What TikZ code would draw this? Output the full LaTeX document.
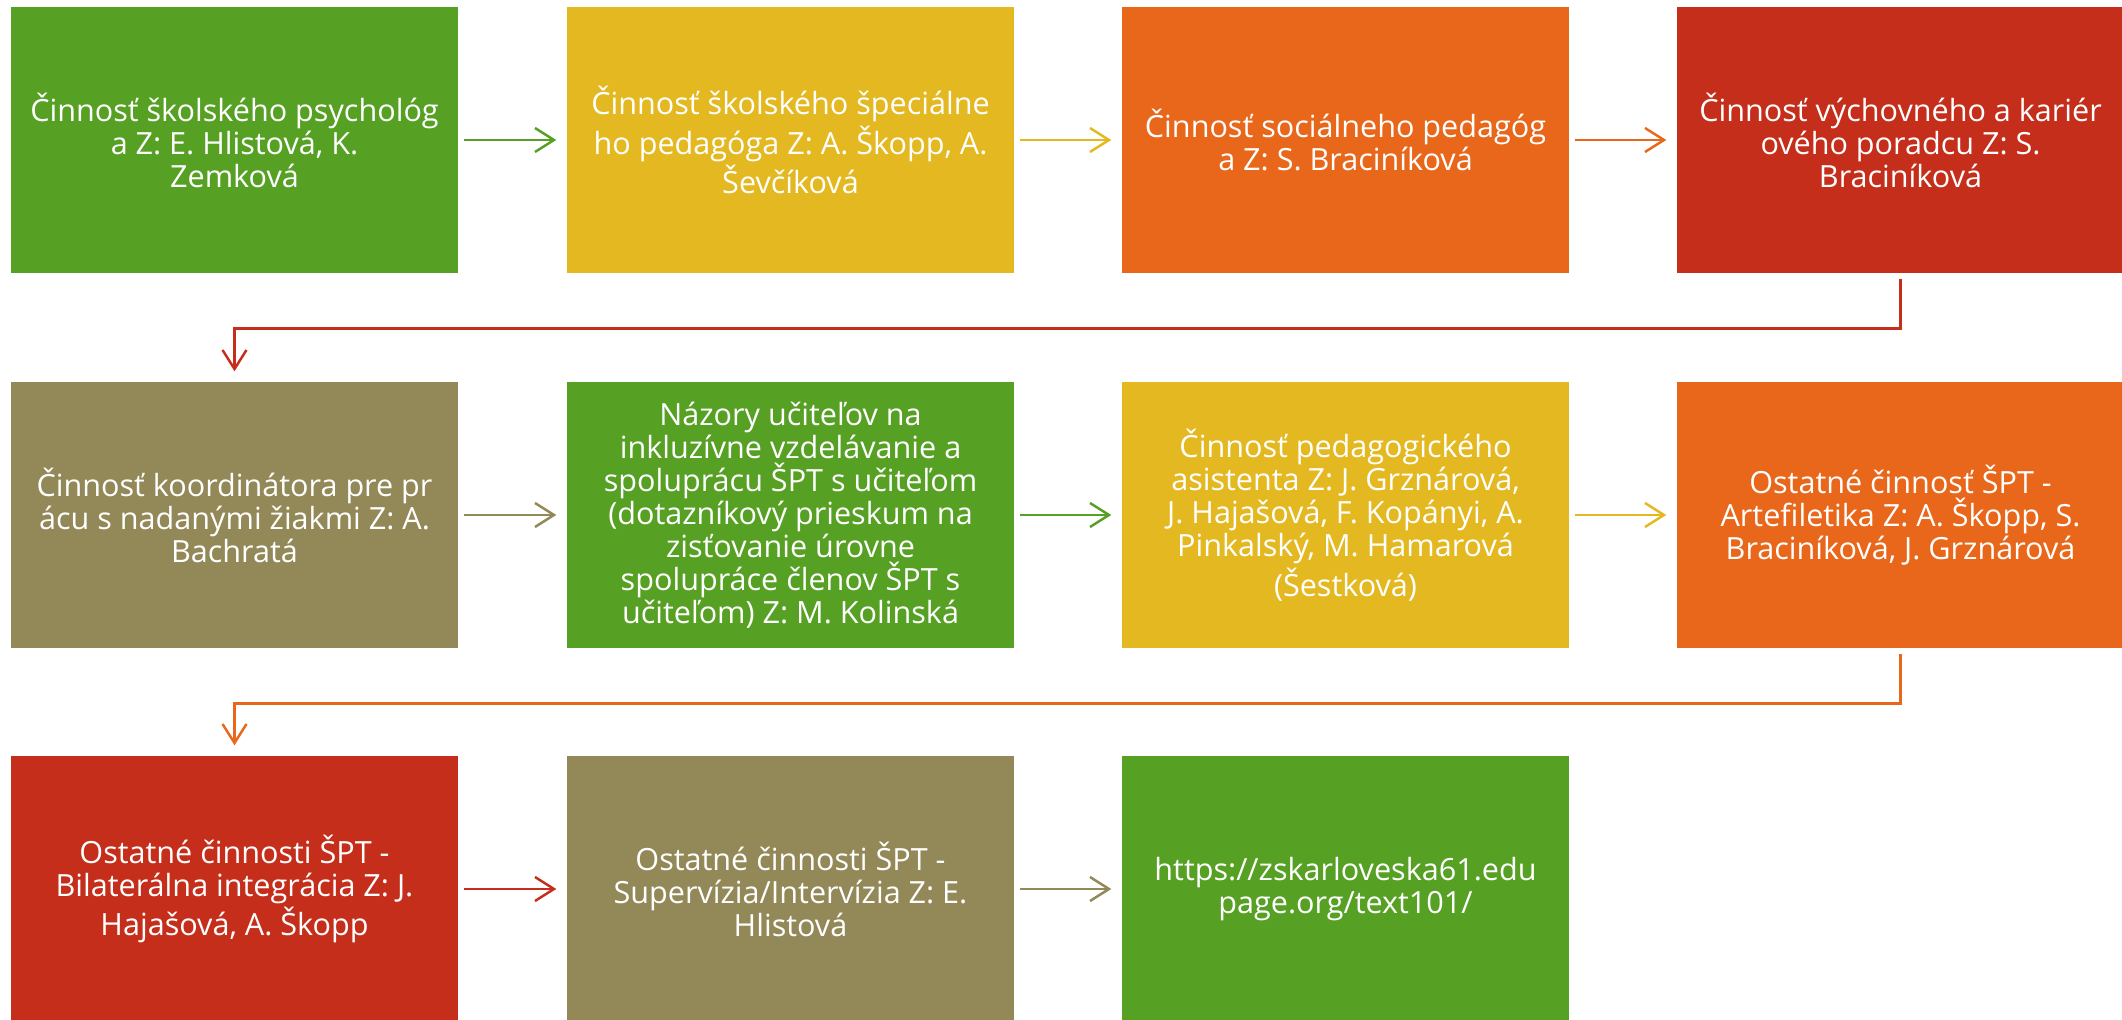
\documentclass[tikz,border=0pt]{standalone}
\usepackage{fontspec}
\setmainfont{Open Sans}
\usetikzlibrary{arrows.meta}

\definecolor{leaf}{RGB}{86,160,35}
\definecolor{mustard}{RGB}{228,184,32}
\definecolor{tangerine}{RGB}{232,103,26}
\definecolor{brick}{RGB}{196,46,27}
\definecolor{olive}{RGB}{147,136,87}

\tikzset{
  box/.style={minimum width=4.47cm, minimum height=2.66cm, inner sep=0pt,
    align=center, text=white, font=\fontsize{8.7}{9.4}\selectfont},
  link/.style={->, line width=0.7pt, shorten <=0.05cm, shorten >=0.1cm},
}

\begin{document}
\begin{tikzpicture}[>={Straight Barb[length=0.19cm,width=0.24cm]}]
\useasboundingbox (0,0) rectangle (21.22,-10.20);

% first row
\node[box,fill=leaf] (psych) at (2.345,-1.40) {Činnosť školského psychológ\\a Z: E. Hlistová, K.\\Zemková};

\node[box,fill=mustard] (specped) at (7.905,-1.40) {Činnosť školského špeciálne\\ho pedagóga Z: A. Škopp, A.\\Ševčíková};

\node[box,fill=tangerine] (socped) at (13.455,-1.40) {Činnosť sociálneho pedagóg\\a Z: S. Braciníková};

\node[box,fill=brick] (career) at (19.005,-1.40) {Činnosť výchovného a kariér\\ového poradcu Z: S.\\Braciníková};

% second row
\node[box,fill=olive] (gifted) at (2.345,-5.15) {Činnosť koordinátora pre pr\\ácu s nadanými žiakmi Z: A.\\Bachratá};

\node[box,fill=leaf] (opinions) at (7.905,-5.15) {Názory učiteľov na\\inkluzívne vzdelávanie a\\spoluprácu ŠPT s učiteľom\\(dotazníkový prieskum na\\zisťovanie úrovne\\spolupráce členov ŠPT s\\učiteľom) Z: M. Kolinská};

\node[box,fill=mustard] (assist) at (13.455,-5.15) {Činnosť pedagogického\\asistenta Z: J. Grznárová,\\J. Hajašová, F. Kopányi, A.\\Pinkalský, M. Hamarová\\(Šestková)};

\node[box,fill=tangerine] (artefil) at (19.005,-5.15) {Ostatné činnosť ŠPT -\\Artefiletika Z: A. Škopp, S.\\Braciníková, J. Grznárová};

% third row
\node[box,fill=brick] (bilat) at (2.345,-8.89) {Ostatné činnosti ŠPT -\\Bilaterálna integrácia Z: J.\\Hajašová, A. Škopp};

\node[box,fill=olive] (superv) at (7.905,-8.89) {Ostatné činnosti ŠPT -\\Supervízia/Intervízia Z: E.\\Hlistová};

\node[box,fill=leaf] (web) at (13.455,-8.89) {https://zskarloveska61.edu\\page.org/text101/};

% connectors
\draw[link,leaf] (psych) -- (specped);

\draw[link,mustard] (specped) -- (socped);

\draw[link,tangerine] (socped) -- (career);

\draw[link,brick] (career.south) -- ++(0,-0.55) -| (gifted.north);

\draw[link,olive] (gifted) -- (opinions);

\draw[link,leaf] (opinions) -- (assist);

\draw[link,mustard] (assist) -- (artefil);

\draw[link,tangerine] (artefil.south) -- ++(0,-0.55) -| (bilat.north);

\draw[link,brick] (bilat) -- (superv);

\draw[link,olive] (superv) -- (web);

\end{tikzpicture}
\end{document}
